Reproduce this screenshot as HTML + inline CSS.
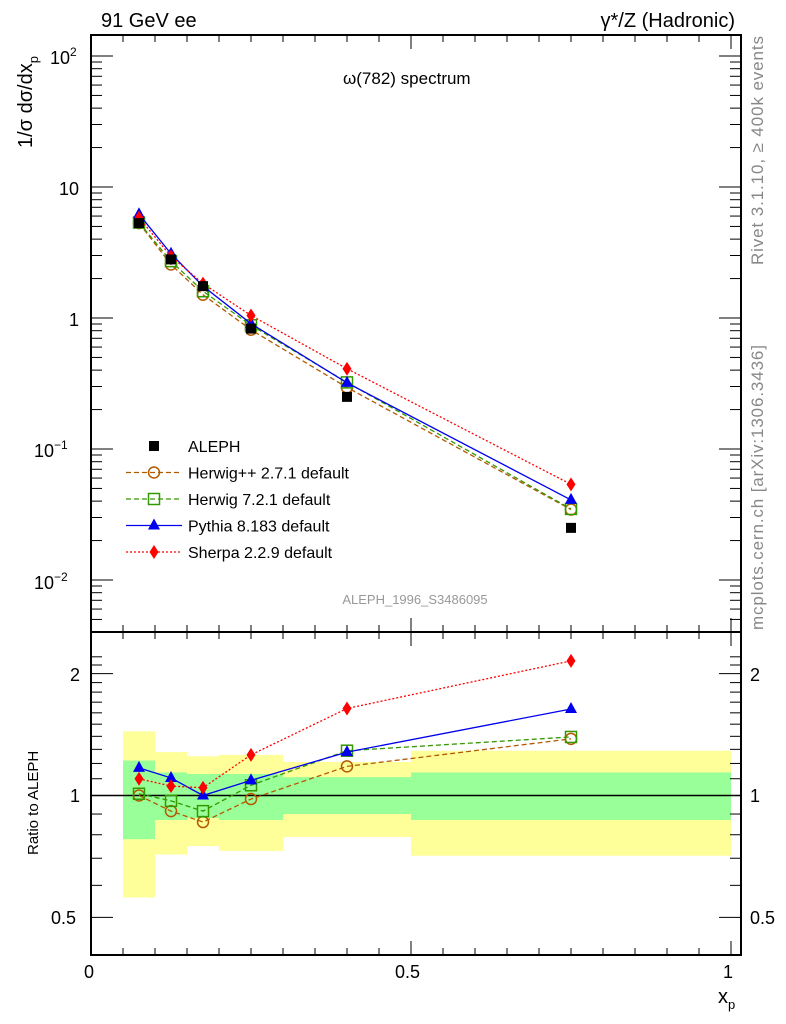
<!DOCTYPE html>
<html><head><meta charset="utf-8"><style>
body{margin:0;background:#fff;}
svg{display:block;font-family:"Liberation Sans",sans-serif;}
</style></head><body>
<svg id="c" width="786" height="1024"></svg>
<script>
const xs=[0.075,0.125,0.175,0.25,0.4,0.75];
const aleph=[5.3,2.8,1.75,0.83,0.25,0.025];
const rHpp=[1.0,0.915,0.86,0.98,1.18,1.38];
const rH7=[1.01,0.97,0.915,1.06,1.29,1.395];
const rPy=[1.17,1.105,1.0,1.09,1.28,1.635];
const rSh=[1.10,1.055,1.045,1.26,1.64,2.15];
const binEdges=[0.05,0.1,0.15,0.2,0.3,0.5,1.0];
const yelHi=[1.44,1.28,1.25,1.26,1.21,1.29];
const yelLo=[0.56,0.715,0.75,0.73,0.79,0.71];
const grnHi=[1.22,1.14,1.13,1.13,1.11,1.14];
const grnLo=[0.78,0.87,0.88,0.87,0.90,0.87];
const NS='http://www.w3.org/2000/svg';
const svg=document.getElementById('c');
const X=v=>91+640*v;
const Y=v=>318-131*Math.log10(v);
const R=v=>795.5-405*Math.log10(v);
function el(t,a,p){const e=document.createElementNS(NS,t);for(const k in a)e.setAttribute(k,a[k]);(p||svg).appendChild(e);return e;}
function txt(x,y,s,a){const e=el('text',Object.assign({x:x,y:y,'font-size':18},a||{}));e.innerHTML=s;return e;}
for(let i=0;i<6;i++){
 const y=el('rect',{x:X(binEdges[i]),y:R(yelHi[i]),width:X(binEdges[i+1])-X(binEdges[i]),height:R(yelLo[i])-R(yelHi[i]),fill:'#ffff99'});
 
 
}
for(let i=0;i<6;i++){
 const g=el('rect',{x:X(binEdges[i]),y:R(grnHi[i]),width:X(binEdges[i+1])-X(binEdges[i]),height:R(grnLo[i])-R(grnHi[i]),fill:'#99ff99'});
 
 
}
el('line',{x1:91,x2:741,y1:R(1),y2:R(1),stroke:'#000','stroke-width':1.5});
el('rect',{x:91,y:35,width:650,height:597,fill:'none',stroke:'#000','stroke-width':2});
el('rect',{x:91,y:632,width:650,height:323,fill:'none',stroke:'#000','stroke-width':2});
for(let i=0;i<=20;i++){const v=i*0.05;const big=i%10==0;const L=big?14:7;
 for(const [b,t] of [[632,35],[955,632]]){el('line',{x1:X(v),x2:X(v),y1:b,y2:b-L,stroke:'#000'});el('line',{x1:X(v),x2:X(v),y1:t,y2:t+L,stroke:'#000'});}
}
for(let d=-3;d<=2;d++)for(let m=1;m<10;m++){const v=m*Math.pow(10,d);const y=Y(v);if(y<36||y>631)continue;const L=m==1?22:11;
 el('line',{x1:91,x2:91+L,y1:y,y2:y,stroke:'#000'});el('line',{x1:741,x2:741-L,y1:y,y2:y,stroke:'#000'});}
for(const v of [0.5,0.6,0.7,0.8,0.9,1,1.1,1.2,1.3,1.4,1.5,1.6,1.7,1.8,1.9,2,2.1,2.2]){const y=R(v);if(y<633||y>954)continue;const L=(v==0.5||v==1||v==2)?22:11;
 el('line',{x1:91,x2:91+L,y1:y,y2:y,stroke:'#000'});el('line',{x1:741,x2:741-L,y1:y,y2:y,stroke:'#000'});}
txt(50,64,'10<tspan font-size="12" dy="-8">2</tspan>');
txt(59,195,'10');txt(69,326,'1');
txt(34,457,'10<tspan font-size="12" dy="-8">−1</tspan>');
txt(34,589,'10<tspan font-size="12" dy="-8">−2</tspan>');
txt(70,681,'2');txt(70,802,'1');txt(51,924,'0.5');
txt(750,681,'2');txt(750,802,'1');txt(750,924,'0.5');
txt(84,978,'0');txt(395,978,'0.5');txt(723,978,'1');
txt(718,1003,'x<tspan font-size="13" dy="6">p</tspan>',{'font-size':20});
txt(101,27,'91 GeV ee',{'font-size':20});
txt(735,27,'γ*/Z (Hadronic)',{'font-size':20,'text-anchor':'end'});
txt(343,84,'ω(782) spectrum',{'font-size':17});
txt(415,604,'ALEPH_1996_S3486095',{'font-size':13,fill:'#999','text-anchor':'middle'});
txt(0,0,'1/σ dσ/dx<tspan font-size="13" dy="6">p</tspan>',{'font-size':20,transform:'translate(32,148) rotate(-90)'});
txt(0,0,'Ratio to ALEPH',{'font-size':15,transform:'translate(38,855) rotate(-90)'});
txt(0,0,'Rivet 3.1.10, ≥ 400k events',{'font-size':17,fill:'#888','textLength':229,transform:'translate(763,265) rotate(-90)'});
txt(0,0,'mcplots.cern.ch [arXiv:1306.3436]',{'font-size':17,fill:'#888','textLength':285,transform:'translate(763,630) rotate(-90)'});
function mark(type,x,y,c){
 if(type=='sq')return el('rect',{x:x-5,y:y-5,width:10,height:10,fill:'#000'});
 if(type=='osq')return el('rect',{x:x-5.5,y:y-5.5,width:11,height:11,fill:'none',stroke:c,'stroke-width':1.5});
 if(type=='circ')return el('circle',{cx:x,cy:y,r:5.5,fill:'none',stroke:c,'stroke-width':1.5});
 if(type=='tri')return el('polygon',{points:`${x},${y-7} ${x-6},${y+4} ${x+6},${y+4}`,fill:c});
 if(type=='dia')return el('polygon',{points:`${x},${y-7} ${x-4.5},${y} ${x},${y+7} ${x+4.5},${y}`,fill:c});
}
const series=[
 {r:rHpp,c:'#b35900',m:'circ',d:'5,3',n:'herwigpp'},
 {r:rH7,c:'#339900',m:'osq',d:'5,3',n:'herwig7'},
 {r:rPy,c:'#0000ee',m:'tri',d:'',n:'pythia'},
 {r:rSh,c:'#ff0000',m:'dia',d:'2,2',n:'sherpa'}];
for(const s of series){
 const main=xs.map((x,i)=>[X(x),Y(aleph[i]*s.r[i])]);
 const rat=xs.map((x,i)=>[X(x),R(s.r[i])]);
 for(const pts of [main,rat]){
  const l=el('polyline',{points:pts.map(p=>p.join(',')).join(' '),fill:'none',stroke:s.c,'stroke-width':1.3,'stroke-dasharray':s.d});
  
  
  for(const p of pts){const m=mark(s.m,p[0],p[1],s.c);
   
   }
 }
}
xs.forEach((x,i)=>{const m=mark('sq',X(x),Y(aleph[i]));
 
 });
const leg=[['sq','#000','','ALEPH'],['circ','#b35900','5,3','Herwig++ 2.7.1 default'],['osq','#339900','5,3','Herwig 7.2.1 default'],['tri','#0000ee','','Pythia 8.183 default'],['dia','#ff0000','2,2','Sherpa 2.2.9 default']];
leg.forEach((e,i)=>{const y=446+26.5*i;
 if(i>0)el('line',{x1:126,x2:182,y1:y,y2:y,stroke:e[1],'stroke-width':1.3,'stroke-dasharray':e[2]});
 const m=mark(e[0],154,y,e[1]);
 
 
 const t=txt(188,y+6,e[3],{'font-size':16});
 
 
});
</script>
</body></html>
